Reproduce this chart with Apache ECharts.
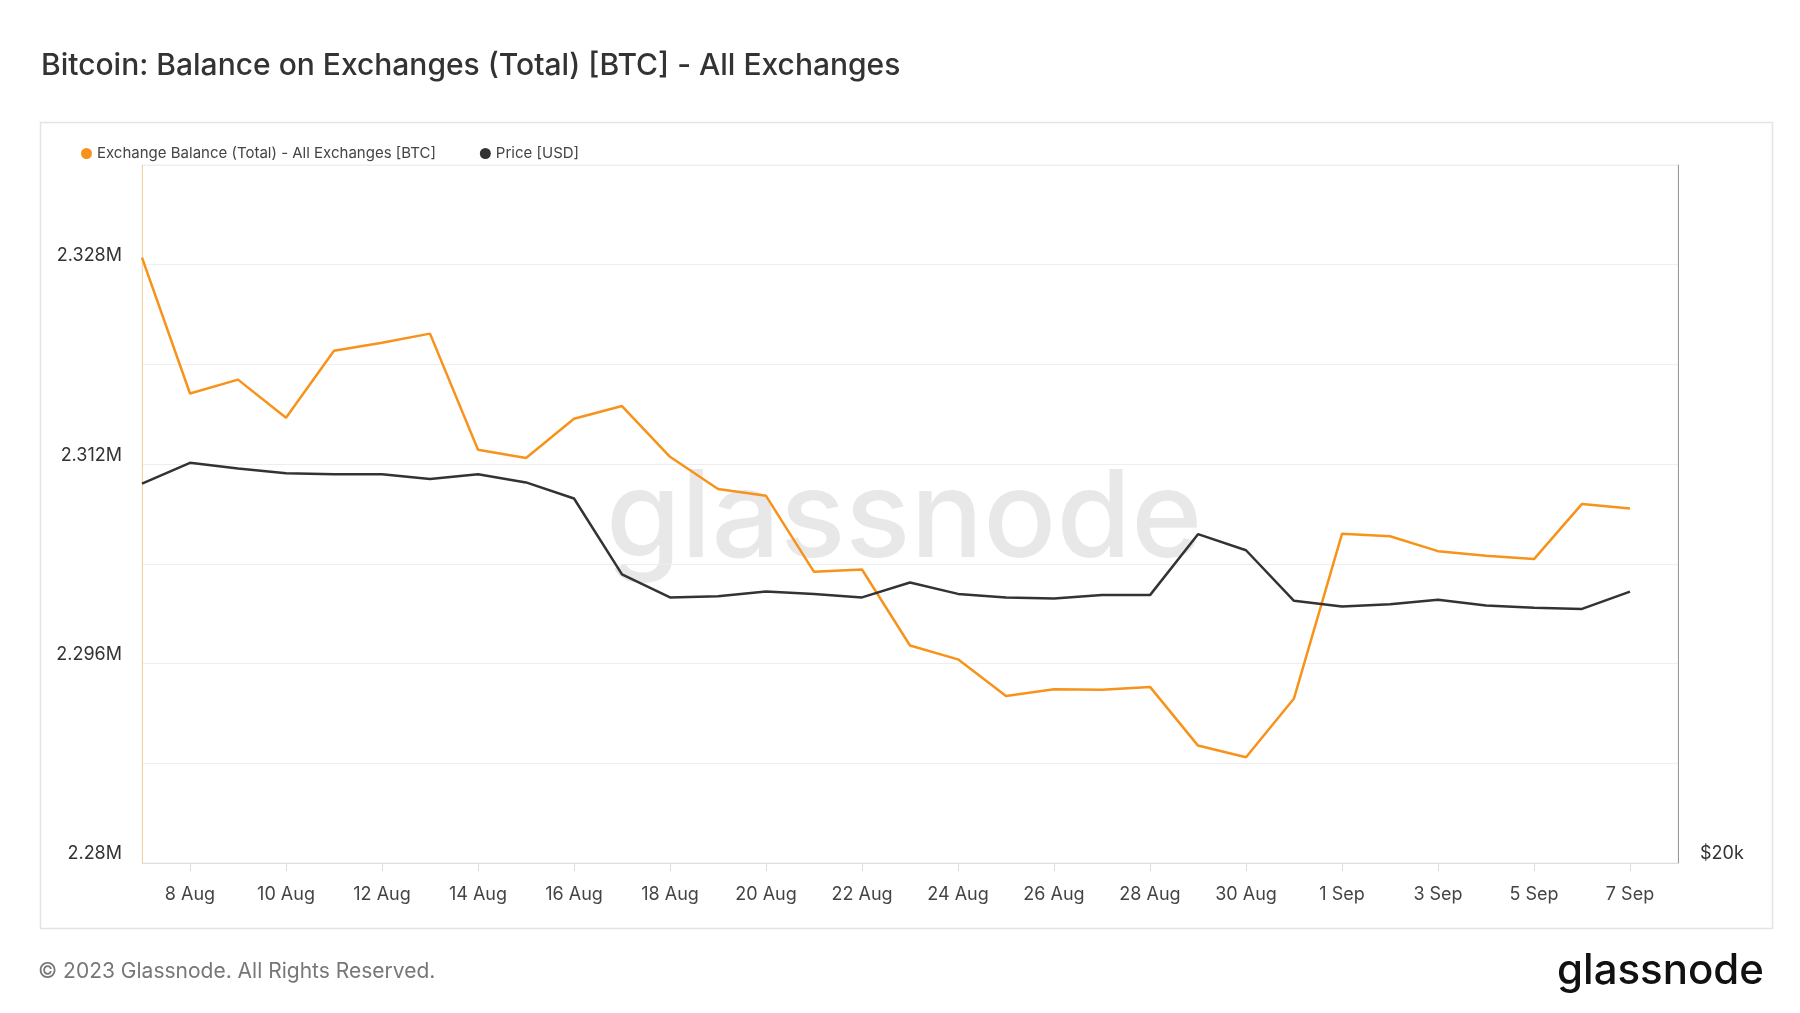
<!DOCTYPE html>
<html>
<head>
<meta charset="utf-8">
<script src="https://cdn.jsdelivr.net/npm/echarts@6/dist/echarts.min.js"></script>
<style>html,body{margin:0;padding:0;background:#fff}#chart{width:1800px;height:1013px}</style>
</head>
<body>
<div id="chart"></div>
<script>
const dates = ["7 Aug","8 Aug","9 Aug","10 Aug","11 Aug","12 Aug","13 Aug","14 Aug","15 Aug","16 Aug","17 Aug","18 Aug","19 Aug","20 Aug","21 Aug","22 Aug","23 Aug","24 Aug","25 Aug","26 Aug","27 Aug","28 Aug","29 Aug","30 Aug","31 Aug","1 Sep","2 Sep","3 Sep","4 Sep","5 Sep","6 Sep","7 Sep","8 Sep"];
const balance = [2328570,2317670,2318780,2315730,2321090,2321740,2322470,2313150,2312500,2315640,2316660,2312590,2310010,2309460,2303360,2303550,2297450,2296340,2293390,2293940,2293900,2294130,2289420,2288490,2293200,2306410,2306220,2305020,2304650,2304380,2308810,2308440];
const price = [28154,28600,28476,28377,28352,28352,28253,28352,28179,27833,26202,25708,25733,25832,25783,25708,26029,25783,25708,25683,25757,25757,27067,26721,25634,25510,25560,25659,25535,25486,25461,25832];
const leftTicks = [2280000,2296000,2312000,2328000];

const chart = echarts.init(document.getElementById('chart'));
const font = 'Inter, "Noto Sans", sans-serif';
chart.setOption({
  animation: false,
  textStyle: { fontFamily: font },
  title: { text: 'Bitcoin: Balance on Exchanges (Total) [BTC] - All Exchanges', left: 36, top: 46,
    textStyle: { fontSize: 30, fontWeight: 500, color: '#333', fontFamily: font } },
  legend: { left: 76, top: 141, itemWidth: 11, itemHeight: 11, itemGap: 44, icon: 'circle',
    textStyle: { fontSize: 15, color: '#444' } },
  grid: { left: 142, right: 122, top: 165, bottom: 150, show: true, borderColor: '#eee', borderWidth: 1 },
  graphic: [
    { type: 'rect', left: 38, top: 120, shape: { width: 1732, height: 806 }, silent: true, z: -1,
      style: { fill: 'none', stroke: '#e4e4e4', lineWidth: 1.5 } },
    { type: 'text', left: 606, top: 460, z: -1, silent: true,
      style: { text: 'glassnode', fontSize: 121, fontWeight: 500, fill: 'rgba(0,0,0,0.09)', fontFamily: font } },
    { type: 'text', left: 38, top: 961, style: { text: '© 2023 Glassnode. All Rights Reserved.', fontSize: 21, fill: '#777', fontFamily: font } },
    { type: 'text', right: 36, top: 950, style: { text: 'glassnode', fontSize: 42, fontWeight: 500, fill: '#111', fontFamily: font } }
  ],
  xAxis: {
    type: 'category', data: dates, boundaryGap: false,
    axisLine: { lineStyle: { color: '#ddd' } },
    axisTick: { interval: (i) => i % 2 === 1, length: 8, lineStyle: { color: '#ddd' } },
    axisLabel: { interval: (i) => i % 2 === 1, fontSize: 18, color: '#444', margin: 23 },
    splitLine: { show: false }
  },
  yAxis: [
    { type: 'value', min: 2280000, max: 2336000, interval: 8000,
      axisLine: { show: true, lineStyle: { color: '#f7d3a4' } },
      axisLabel: { fontSize: 18, color: '#333', margin: 20,
        formatter: (v) => leftTicks.includes(v) ? (v / 1e6).toFixed(3).replace(/0+$/, '').replace(/\.$/, '') + 'M' : '',
        showMaxLabel: false, verticalAlign: 'bottom' },
      splitLine: { lineStyle: { color: '#eee' } } },
    { type: 'value', min: 20000, max: 35000, interval: 15000, position: 'right',
      axisLine: { show: true, lineStyle: { color: '#999' } },
      axisLabel: { fontSize: 18, color: '#333', margin: 22, verticalAlign: 'bottom',
        formatter: (v) => v === 20000 ? '$20k' : '' },
      splitLine: { show: false } }
  ],
  series: [
    { name: 'Exchange Balance (Total) - All Exchanges [BTC]', type: 'line', data: balance, yAxisIndex: 0,
      symbol: 'none', lineStyle: { color: '#f7931a', width: 2.5 }, itemStyle: { color: '#f7931a' } },
    { name: 'Price [USD]', type: 'line', data: price, yAxisIndex: 1,
      symbol: 'none', lineStyle: { color: '#333', width: 2.5 }, itemStyle: { color: '#333' } }
  ]
});
</script>
</body>
</html>
